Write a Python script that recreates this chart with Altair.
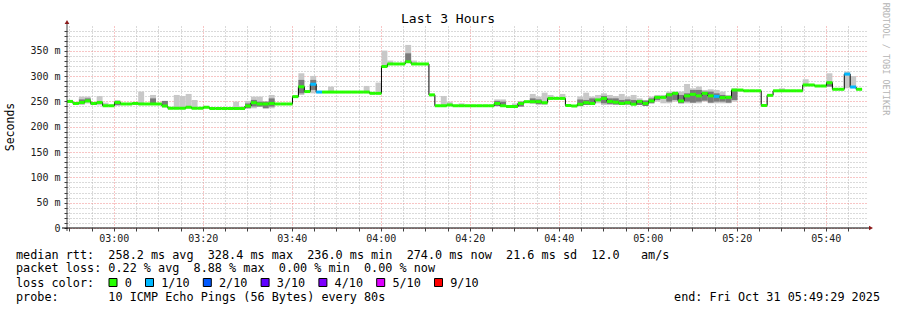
import altair as alt
import pandas as pd

FONT = "DejaVu Sans Mono"

# ---- time base (minutes since midnight) ----
START = 2 * 60 + 49 + 29 / 60      # 02:49:29
STEP = 80 / 60                      # probe every 80 s
SPAN = 180                          # last 3 hours

# ---- median rtt per 80 s step (ms) ----
median_ms = [
    250, 246, 248, 251, 246, 248, 241.5, 241.5, 248, 245,
    245, 246, 245, 245, 245, 245, 241, 236.5, 236.5, 236.5,
    238.5, 236.5, 236.5, 238.5, 236, 236, 236, 236, 236, 236,
    241, 247.5, 245, 245, 246, 245, 245, 245, 259.5, 279,
    269.5, 284, 268.5, 268.5, 268.5, 268.5, 268.5, 268.5, 268.5, 268.5,
    268.5, 266, 266, 319, 324, 324, 324, 328.4, 324, 324,
    324, 263, 241.5, 241.5, 243, 241.5, 241.5, 241.5, 241.5, 241.5,
    241.5, 241.5, 246, 241.5, 240, 240, 246, 249.5, 249.5, 249.5,
    247.5, 256, 256, 256, 242, 241, 244.5, 247.5, 246, 253,
    256, 250, 248.5, 246, 247.5, 244.5, 250, 246, 251, 258,
    258, 263, 266, 251, 261, 264, 261, 266, 261, 260,
    257.5, 258, 272.5, 272.5, 271, 271, 271, 242, 262, 271,
    271, 271, 271, 271, 282.5, 282.5, 280.5, 280.5, 287, 274,
    274, 304, 278.5, 274,
]
loss_steps = [41, 42, 109, 131, 132]   # steps with 1/10 loss

# ---- smoke (outer spread of the 10 pings) ----
smoke_k = [1, 2, 3, 4, 5, 6, 8, 11, 12, 14, 16, 18, 19, 20, 21, 28, 29, 30, 31, 32,
           33, 34, 39, 41, 44, 50, 52, 53, 54, 57, 58, 63, 64, 66, 72, 73, 75, 76, 78, 79,
           80, 81, 83, 86, 87, 88, 89, 90, 91, 92, 93, 94, 95, 96, 97, 98, 99, 100, 101, 102,
           103, 104, 105, 106, 107, 108, 109, 110, 111, 112, 113, 120, 124, 125, 128, 131, 132]
smoke_lo = [244, 243, 246, 243, 242.4, 241.5, 241, 245, 246.3, 244.4, 238.4, 236.4, 236.4, 236.4, 236.4, 235, 235, 236.4, 236.4, 239.8,
            236.4, 236.4, 262.8, 266, 268, 268, 266, 318.8, 324, 327.4, 324, 241.5, 243, 241.5, 240, 240, 240, 239.8, 246.3, 243,
            243, 253, 253, 240, 243, 243, 246.3, 243, 243, 243, 243, 243, 243, 243, 241, 246.3, 249.6, 246.3, 246.3, 249.6,
            246.3, 246.3, 246.3, 246.3, 249.6, 246.3, 246.3, 246.3, 246.3, 249.6, 269.4, 272.7, 282.6, 282.6, 279.3, 276, 276]
smoke_hi = [248, 259.5, 259.5, 246, 260.8, 247.6, 252.9, 248, 269.4, 262.8, 251, 262.8, 260.8, 264.8, 253, 249.6, 240, 251, 259.5, 259.5,
            249.6, 262.8, 305.6, 300.4, 279.3, 280.6, 287.2, 350.4, 330.7, 361.6, 330.7, 260.8, 249.6, 246.3, 254, 254, 246, 249.6, 264.8, 259.5,
            267.4, 262.8, 264.8, 259.5, 267.4, 259.5, 262.8, 266, 262.8, 260.8, 264.8, 259.5, 262.8, 256.2, 253, 259.5, 262.8, 262.8, 269.4, 269.4,
            269.4, 284.5, 276, 279.3, 272.7, 274, 272.7, 269.4, 262.8, 276, 272.7, 276, 293.8, 284.5, 305.6, 309, 300]

# ---- smoke (inner, darker spread) ----
dark_k = [2, 3, 4, 8, 14, 16, 30, 31, 32, 33, 34, 39, 41, 57, 72, 73, 76, 78, 79, 86,
          87, 88, 90, 91, 92, 93, 94, 95, 96, 97, 98, 99, 101, 102, 103, 104, 105, 106, 107, 108,
          109, 110, 111, 112, 128]
dark_lo = [248, 249, 243, 243, 246, 240, 236.4, 240, 239.8, 236.4, 239.8, 266, 272.7, 329, 241, 241, 239.8, 246.3, 245, 241,
           243, 243, 246.3, 245, 244, 243, 244, 243, 243, 241, 246.3, 253, 249.6, 252.9, 246.3, 249.6, 247.6, 249.6, 251.6, 247.6,
           249.6, 249.6, 247.6, 252.9, 279.3]
dark_hi = [254, 256, 246, 250, 256, 251, 246, 253, 249.6, 249.6, 256, 292.5, 292.5, 345, 251, 249.6, 249.6, 256, 254, 254,
           252.9, 256, 260.8, 256, 256, 252.9, 254, 252.9, 252.9, 251.6, 256, 260.8, 266, 266, 262.8, 266, 272.7, 272.7, 269.4, 269.4,
           266, 262.8, 260.8, 272.7, 289]

# ---- legend / text ----
loss_labels = ["0", "1/10", "2/10", "3/10", "4/10", "5/10", "9/10"]
loss_colors = ["#26ff00", "#00b8ff", "#0059ff", "#5e00ff", "#7e00ff", "#dd00ff", "#ff0000"]
y_ticks = list(range(0, 400, 10))
x_ticks = list(range(170, 350, 5))

title_text = "Last 3 Hours"
y_title = "Seconds"
line_rtt = "median rtt:  258.2 ms avg  328.4 ms max  236.0 ms min  274.0 ms now  21.6 ms sd  12.0   am/s"
line_loss = "packet loss: 0.22 % avg  8.88 % max  0.00 % min  0.00 % now"
line_color = "loss color:"
line_probe = "probe:       10 ICMP Echo Pings (56 Bytes) every 80s"
end_text = "end: Fri Oct 31 05:49:29 2025"
side_text = "RRDTOOL / TOBI OETIKER"

# ---- frames ----
n = len(median_ms)
steps = pd.DataFrame({
    "t": [START + k * STEP for k in range(n)],
    "t2": [START + (k + 1) * STEP for k in range(n)],
    "med": median_ms,
    "col": [loss_colors[1] if k in loss_steps else loss_colors[0] for k in range(n)],
})
line_df = pd.DataFrame({
    "t": [START + k * STEP for k in range(n + 1)],
    "med": median_ms + [median_ms[-1]],
})
smoke_df = pd.DataFrame({
    "t": [START + k * STEP for k in smoke_k],
    "t2": [START + (k + 1) * STEP for k in smoke_k],
    "lo": smoke_lo, "hi": smoke_hi,
})
dark_df = pd.DataFrame({
    "t": [START + k * STEP for k in dark_k],
    "t2": [START + (k + 1) * STEP for k in dark_k],
    "lo": dark_lo, "hi": dark_hi,
})

W, H = 801, 202
xscale = alt.Scale(domain=[START, START + SPAN], nice=False, zero=False)
yscale = alt.Scale(domain=[0, 399], nice=False, zero=True)

xaxis = alt.Axis(
    values=x_ticks, title=None, domain=False,
    labelExpr="datum.value % 20 == 0 ? format(floor(datum.value / 60), '02d') + ':' + format(datum.value % 60, '02d') : ''",
    labelFont=FONT, labelFontSize=10, labelColor="#202020", labelOverlap=False,
    labelPadding=2, tickSize=3, tickColor="#404040",
    gridColor=alt.condition("datum.value % 20 == 0", alt.value("#f08a8a"), alt.value("#b4b4b4")),
    gridDash=[1, 2], gridWidth=1,
)
yaxis = alt.Axis(
    values=y_ticks, title=None, domain=False,
    labelExpr="datum.value % 50 == 0 ? (datum.value == 0 ? '0' : datum.value + ' m') : ''",
    labelFont=FONT, labelFontSize=10, labelColor="#202020", labelOverlap=False,
    labelPadding=4, tickSize=3, tickColor="#404040",
    gridColor=alt.condition("datum.value % 50 == 0", alt.value("#f08a8a"), alt.value("#b4b4b4")),
    gridDash=[1, 2], gridWidth=1,
)

light = alt.Chart(smoke_df).mark_rect(color="#c8c8c8").encode(
    x=alt.X("t:Q", scale=xscale, axis=xaxis), x2="t2:Q",
    y=alt.Y("lo:Q", scale=yscale, axis=yaxis), y2="hi:Q",
)
dark = alt.Chart(dark_df).mark_rect(color="#7a7a7a").encode(
    x=alt.X("t:Q", scale=xscale, axis=xaxis), x2="t2:Q",
    y=alt.Y("lo:Q", scale=yscale, axis=yaxis), y2="hi:Q",
)
med_line = alt.Chart(line_df).mark_line(interpolate="step-after", color="black", strokeWidth=1).encode(
    x=alt.X("t:Q", scale=xscale, axis=xaxis),
    y=alt.Y("med:Q", scale=yscale, axis=yaxis),
)
band = alt.Chart(steps).mark_rule(strokeWidth=3, strokeCap="butt").encode(
    x=alt.X("t:Q", scale=xscale, axis=xaxis), x2="t2:Q",
    y=alt.Y("med:Q", scale=yscale, axis=yaxis),
    color=alt.Color("col:N", scale=None),
)

one = pd.DataFrame({"s": [""]})
NBSP = "\u00a0"


def txt(s, x, y, **kw):
    params = dict(font=FONT, align="left", baseline="middle", color="black", fontSize=11.8)
    params.update(kw)
    return alt.Chart(pd.DataFrame({"s": [s.replace(" ", NBSP)]})).mark_text(**params).encode(
        x=alt.value(x), y=alt.value(y), text="s:N")


# plot origin is at (67, 26) of the canvas
axis_y_line = alt.Chart(one).mark_rule(color="#404040", strokeWidth=1).encode(
    x=alt.value(0), y=alt.value(-4), y2=alt.value(H + 3))
axis_x_line = alt.Chart(one).mark_rule(color="black", strokeWidth=1).encode(
    x=alt.value(-5), x2=alt.value(W + 2), y=alt.value(H))
arrow_up = alt.Chart(one).mark_point(shape="triangle-up", filled=True, color="#8b1a1a", size=22, opacity=1).encode(
    x=alt.value(0), y=alt.value(-4))
arrow_right = alt.Chart(one).mark_point(shape="triangle-right", filled=True, color="#8b1a1a", size=22, opacity=1).encode(
    x=alt.value(W + 3), y=alt.value(H))

layers = [light, dark, med_line, band, axis_y_line, axis_x_line, arrow_up, arrow_right]

layers.append(txt(title_text, 381, -7, align="center", fontSize=13))
layers.append(txt(y_title, -56, 101, align="center", angle=270, fontSize=11.5))
layers.append(txt(side_text, 819, 33, align="center", angle=90, fontSize=8.5, color="#b4b4b4"))

CW = 7.1
X0 = 16 - 67
layers.append(txt(line_rtt, X0, 229))
layers.append(txt(line_loss, X0, 242.3))
layers.append(txt(line_color, X0, 256.7))
layers.append(txt(line_probe, X0, 270.7))
layers.append(txt(end_text, 813, 270.7, align="right"))

bx = 109 - 67
for lab, col in zip(loss_labels, loss_colors):
    layers.append(
        alt.Chart(one).mark_rect(fill=col, stroke="black", strokeWidth=1).encode(
            x=alt.value(bx), x2=alt.value(bx + 8), y=alt.value(252.5), y2=alt.value(260.5))
    )
    layers.append(txt(lab, bx + 15.7, 256.7))
    bx = bx + 15.7 + len(lab) * CW + 13.7

chart = alt.layer(*layers).properties(
    width=W, height=H,
    padding={"left": 67, "top": 26, "right": 29, "bottom": 82},
    autosize=alt.AutoSizeParams(type="none"),
    background="white",
).configure_view(stroke=None)

chart.save("out.html", embed_options={"renderer": "svg", "actions": False})
